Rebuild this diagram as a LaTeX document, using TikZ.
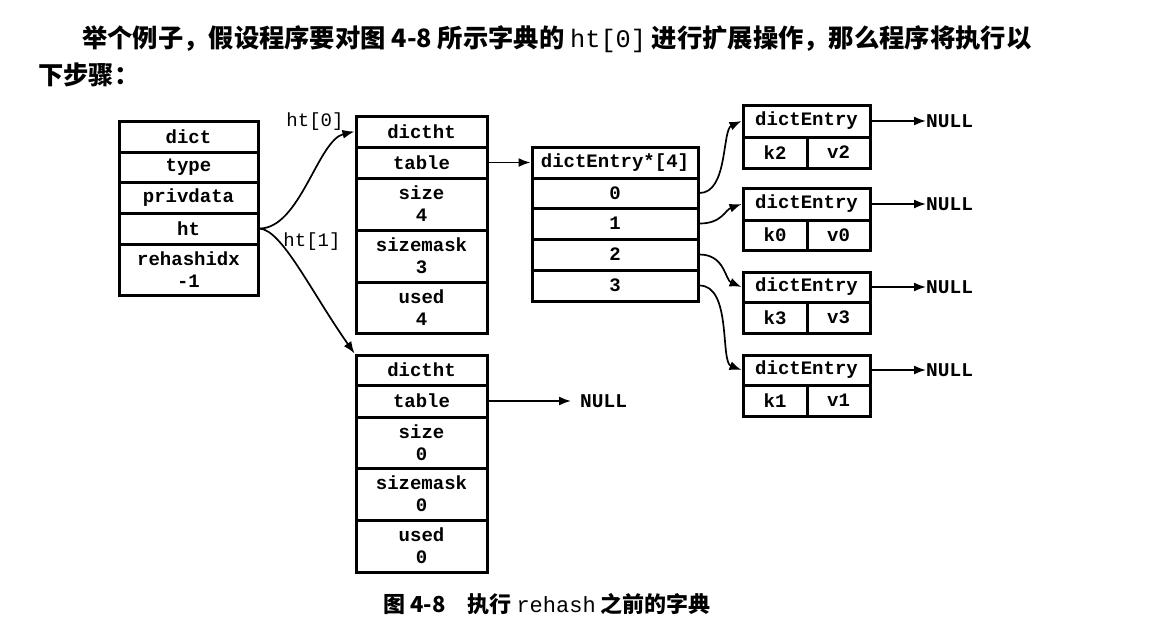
\documentclass[tikz,border=0pt]{standalone}
\usepackage{fontspec}
\setmonofont{Liberation Mono}
\newfontfamily\cjk{Noto Sans CJK SC}
\usetikzlibrary{arrows.meta}
\tikzset{
  cell/.style={draw, line width=3pt, inner sep=0pt, align=center,
    font=\ttfamily\bfseries\fontsize{19}{22}\selectfont},
  dcell/.style={cell, minimum width=139pt},
  hcell/.style={cell, minimum width=131pt},
  acell/.style={cell, minimum width=166pt},
  ecell/.style={cell, minimum width=127pt, minimum height=#1},
  kcell/.style={cell, minimum width=64pt, minimum height=31pt},
  vcell/.style={cell, minimum width=63pt, minimum height=31pt},
  conn/.style={line width=1.7pt, -{Latex[length=12pt,width=9pt]}},
  lbl/.style={inner sep=0pt, font=\ttfamily\fontsize{19}{22}\selectfont},
  nul/.style={inner sep=0pt, anchor=west, font=\ttfamily\bfseries\fontsize{19.5}{22}\selectfont},
  txt/.style={inner sep=0pt, font=\cjk\bfseries\fontsize{25.3}{30}\selectfont},
}
\begin{document}
\begin{tikzpicture}[x=1pt,y=-1pt]
\useasboundingbox[fill=white] (0,0) rectangle (1151,625);

% top text
\node[txt, anchor=base west] (t1) at (82,47) {举个例子，假设程序要对图 4-8 所示字典的 {\ttfamily\mdseries ht[0]} 进行扩展操作，那么程序将执行以};
\node[txt, anchor=base west] (t2) at (38,84) {下步骤：};

% dict
\node[dcell, minimum height=31pt] (d0) at (188.5,136.5) {dict};
\node[dcell, minimum height=30pt] (d1) at (188.5,167) {type};
\node[dcell, minimum height=31pt] (d2) at (188.5,197.5) {privdata};
\node[dcell, minimum height=31pt] (d3) at (188.5,228.5) {ht};
\node[dcell, minimum height=51pt] (d4) at (188.5,269.5) {rehashidx\\-1};

% dictht 0
\node[hcell, minimum height=31pt] (h0a) at (421.5,131.5) {dictht};
\node[hcell, minimum height=31pt] (h0b) at (421.5,162.5) {table};
\node[hcell, minimum height=52pt] (h0c) at (421.5,204) {size\\4};
\node[hcell, minimum height=52pt] (h0d) at (421.5,256) {sizemask\\3};
\node[hcell, minimum height=51pt] (h0e) at (421.5,307.5) {used\\4};

% array
\node[acell, minimum height=31pt] (a0) at (615,162.5) {dictEntry*[4]};
\node[acell, minimum height=30pt] (a1) at (615,193) {0};
\node[acell, minimum height=31pt] (a2) at (615,223.5) {1};
\node[acell, minimum height=31pt] (a3) at (615,254.5) {2};
\node[acell, minimum height=31pt] (a4) at (615,285.5) {3};

% dictht 1
\node[hcell, minimum height=30pt] (h1a) at (421.5,370) {dictht};
\node[hcell, minimum height=32pt] (h1b) at (421.5,401) {table};
\node[hcell, minimum height=51pt] (h1c) at (421.5,442.5) {size\\0};
\node[hcell, minimum height=52pt] (h1d) at (421.5,494) {sizemask\\0};
\node[hcell, minimum height=52pt] (h1e) at (421.5,546) {used\\0};
\node[nul, inner xsep=9pt] (n0) at (571,401) {NULL};

% entries
\node[ecell=32pt] (e1h) at (806.5,121) {dictEntry};
\node[kcell] (e1k) at (775,152.5) {k2};
\node[vcell] (e1v) at (838.5,152.5) {v2};
\node[ecell=32pt] (e2h) at (806.5,204) {dictEntry};
\node[kcell, minimum height=30pt] (e2k) at (775,235) {k0};
\node[vcell, minimum height=30pt] (e2v) at (838.5,235) {v0};
\node[ecell=30pt] (e3h) at (806.5,287) {dictEntry};
\node[kcell] (e3k) at (775,317.5) {k3};
\node[vcell] (e3v) at (838.5,317.5) {v3};
\node[ecell=30pt] (e4h) at (806.5,370) {dictEntry};
\node[kcell] (e4k) at (775,400.5) {k1};
\node[vcell] (e4v) at (838.5,400.5) {v1};

\node[nul] (n1) at (926,121) {NULL};
\node[nul] (n2) at (926,204) {NULL};
\node[nul] (n3) at (926,287) {NULL};
\node[nul] (n4) at (926,370) {NULL};

% labels
\node[lbl] (l0) at (315,122) {ht[0]};
\node[lbl] (l1) at (312,242) {ht[1]};

% connectors
\draw[conn] (d3.east) .. controls (300,228.5) and (318,140) .. (h0a.west);
\draw[conn] (d3.east) .. controls (282,230) and (310,290) .. (h1a.north west);
\draw[conn] (h0b.east) -- (a0.west);
\draw[conn] (h1b.east) -- (n0.west);
\draw[conn] (a1.east) .. controls (728,193) and (722,130) .. (e1h.west);
\draw[conn] (a2.east) .. controls (722,223.5) and (725,210) .. (e2h.west);
\draw[conn] (a3.east) .. controls (725,254.5) and (725,280) .. (e3h.west);
\draw[conn] (a4.east) .. controls (732,285.5) and (720,362) .. (e4h.west);
\draw[conn] (e1h.east) -- (n1.west);
\draw[conn] (e2h.east) -- (n2.west);
\draw[conn] (e3h.east) -- (n3.west);
\draw[conn] (e4h.east) -- (n4.west);

% caption
\node[txt, anchor=base, font=\cjk\bfseries\fontsize{22}{24}\selectfont] (cap) at (547,612) {图 4-8\quad 执行 {\ttfamily\mdseries rehash} 之前的字典};
\end{tikzpicture}
\end{document}
